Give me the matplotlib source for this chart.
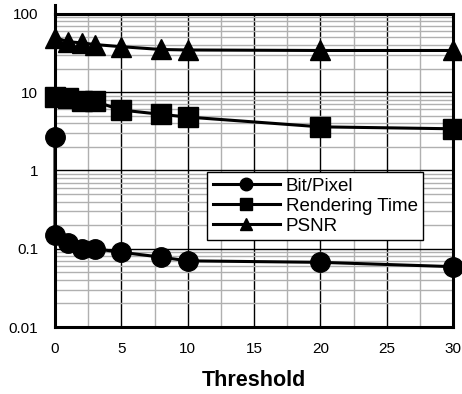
import matplotlib
matplotlib.use("Agg")
import matplotlib.pyplot as plt
from matplotlib.ticker import FixedLocator, NullFormatter, LogLocator
from matplotlib.lines import Line2D

plt.rcParams['font.family'] = ['Liberation Sans', 'DejaVu Sans']

# du lieu doc tu hinh
threshold = [0, 1, 2, 3, 5, 8, 10, 20, 30]
bit_pixel_x = [0] + threshold
bit_pixel = [2.7, 0.15, 0.12, 0.10, 0.10, 0.09, 0.078, 0.070, 0.067, 0.059]
render_time = [8.7, 8.4, 7.8, 7.6, 5.9, 5.2, 4.8, 3.6, 3.4]
psnr = [49.5, 44, 42.5, 40.5, 38, 35, 34.5, 34, 34]

x_ticks = [0, 5, 10, 15, 20, 25, 30]
y_ticks = [0.01, 0.1, 1, 10, 100]
y_labels = ["0.01", "0.1", "1", "10", "100"]

fig = plt.figure(figsize=(4.62, 3.94), dpi=100)
ax = fig.add_axes([0.119, 0.170, 0.862, 0.795])

ax.set_yscale("log")
ax.set_xlim(0, 30)
ax.set_ylim(0.01, 100)

# luoi
ax.set_xticks(x_ticks)
ax.xaxis.set_minor_locator(FixedLocator([2.5, 7.5, 12.5, 17.5, 22.5, 27.5]))
ax.set_yticks(y_ticks)
ax.set_yticklabels(y_labels)
ax.yaxis.set_minor_locator(LogLocator(base=10, subs=range(2, 10)))
ax.yaxis.set_minor_formatter(NullFormatter())
ax.grid(which="major", color="black", linewidth=1.0)
ax.grid(which="minor", color="#b0b0b0", linewidth=1.0)
ax.set_axisbelow(True)
ax.tick_params(which="both", length=0, labelsize=11)
ax.tick_params(axis="y", pad=12)
ax.tick_params(axis="x", pad=11)

for s in ax.spines.values():
    s.set_linewidth(2.2)
    s.set_color("black")

# truc trai nho len tren mot chut
ax.plot([0, 0], [100, 130], color="black", lw=2.2, clip_on=False, zorder=6)

ms = 14
ax.plot(bit_pixel_x, bit_pixel, "-o", color="black", lw=2.2, ms=ms, clip_on=False, zorder=5)
ax.plot(threshold, render_time, "-s", color="black", lw=2.2, ms=ms, clip_on=False, zorder=5)
ax.plot(threshold, psnr, "-^", color="black", lw=2.2, ms=ms, clip_on=False, zorder=5)

handles = [
    Line2D([], [], color="black", lw=2.2, marker="o", ms=9),
    Line2D([], [], color="black", lw=2.2, marker="s", ms=9),
    Line2D([], [], color="black", lw=2.2, marker="^", ms=9),
]
leg = ax.legend(handles, ["Bit/Pixel", "Rendering Time", "PSNR"],
                loc="upper left", bbox_to_anchor=(0.382, 0.495),
                fontsize=13.5, fancybox=False, framealpha=1, edgecolor="black",
                handlelength=3.6, handletextpad=0.3, borderpad=0.3,
                labelspacing=0.15, borderaxespad=0)
leg.get_frame().set_linewidth(1.0)
leg.set_zorder(10)

ax.set_xlabel("Threshold", fontsize=15.5, fontweight="bold", labelpad=10)

fig.savefig("out.png", dpi=100)
